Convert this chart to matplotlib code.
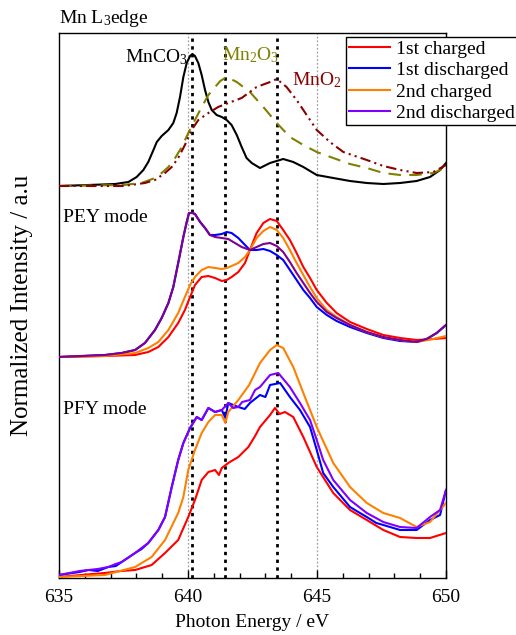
import matplotlib
matplotlib.use("Agg")
import matplotlib.pyplot as plt
from matplotlib.ticker import MultipleLocator

plt.rcParams['font.family'] = ['Liberation Serif', 'DejaVu Serif']
plt.rcParams['mathtext.fontset'] = 'custom'
plt.rcParams['mathtext.rm'] = 'Liberation Serif'
plt.rcParams['mathtext.it'] = 'Liberation Serif:italic'

# ---------------- data ----------------
# reference spectra (top)
e_mnco3 = [635.00, 636.14, 637.17, 637.69, 638.01, 638.27, 638.46, 638.66, 638.79, 638.98,
           639.24, 639.43, 639.56, 639.69, 639.82, 639.95, 640.08, 640.17, 640.27, 640.40,
           640.53, 640.66, 640.79, 640.92, 641.11, 641.31, 641.50, 641.69, 641.89, 642.08,
           642.27, 642.47, 642.79, 643.18, 643.69, 644.08, 644.47, 644.99, 645.63, 646.28,
           646.93, 647.57, 648.22, 648.86, 649.38, 649.77, 650.00]
i_mnco3 = [3.92, 3.93, 3.94, 3.96, 4.01, 4.08, 4.16, 4.28, 4.36, 4.42,
           4.48, 4.55, 4.65, 4.81, 5.01, 5.15, 5.22, 5.24, 5.22, 5.15,
           5.03, 4.88, 4.76, 4.68, 4.63, 4.61, 4.58, 4.53, 4.43, 4.31,
           4.20, 4.15, 4.10, 4.15, 4.19, 4.16, 4.11, 4.03, 4.00, 3.97,
           3.95, 3.94, 3.95, 3.97, 4.01, 4.08, 4.15]

e_mn2o3 = [635.00, 637.50, 638.20, 638.72, 638.98, 639.24, 639.50, 639.76, 640.01, 640.27,
           640.53, 640.79, 641.05, 641.25, 641.50, 641.89, 642.40, 642.92, 643.44, 643.95,
           644.47, 644.99, 645.63, 646.28, 646.93, 647.57, 648.22, 648.86, 649.51, 650.00]
i_mn2o3 = [3.92, 3.93, 3.95, 4.00, 4.05, 4.11, 4.20, 4.31, 4.45, 4.58,
           4.71, 4.83, 4.91, 4.97, 5.01, 4.96, 4.86, 4.71, 4.55, 4.41,
           4.33, 4.26, 4.20, 4.14, 4.10, 4.05, 4.03, 4.03, 4.05, 4.11]

e_mno2 = [635.00, 637.50, 638.33, 638.72, 639.11, 639.37, 639.62, 639.88, 640.14, 640.40,
          640.79, 641.17, 641.56, 642.08, 642.66, 643.18, 643.44, 643.82, 644.21, 644.60,
          644.99, 645.50, 646.02, 646.93, 647.57, 648.22, 648.86, 649.51, 650.00]
i_mno2 = [3.92, 3.92, 3.95, 3.98, 4.05, 4.11, 4.20, 4.33, 4.48, 4.58,
          4.65, 4.71, 4.75, 4.80, 4.91, 4.96, 4.99, 4.91, 4.78, 4.63,
          4.48, 4.36, 4.26, 4.18, 4.12, 4.08, 4.05, 4.06, 4.13]

# PEY mode
e_pey_red = [635.00, 636.78, 637.95, 638.46, 638.85, 639.24, 639.62, 639.88, 640.08, 640.27,
             640.53, 640.79, 641.05, 641.31, 641.50, 641.69, 641.95, 642.21, 642.40, 642.66,
             642.92, 643.18, 643.44, 643.69, 643.95, 644.21, 644.47, 644.73, 644.99, 645.38,
             645.76, 646.28, 646.93, 647.57, 648.22, 648.86, 649.51, 650.00]
i_pey_red = [2.21, 2.22, 2.23, 2.26, 2.31, 2.41, 2.55, 2.68, 2.81, 2.93,
             3.01, 3.02, 3.00, 2.97, 2.98, 3.01, 3.06, 3.15, 3.28, 3.45,
             3.55, 3.59, 3.57, 3.48, 3.38, 3.25, 3.11, 3.00, 2.88, 2.75,
             2.65, 2.56, 2.49, 2.43, 2.40, 2.38, 2.39, 2.40]

e_pey_blue = [635.00, 636.78, 637.43, 637.95, 638.33, 638.72, 638.98, 639.24, 639.43, 639.62,
              639.82, 639.95, 640.04, 640.17, 640.27, 640.47, 640.66, 640.85, 641.05, 641.31,
              641.50, 641.69, 641.95, 642.21, 642.40, 642.66, 642.92, 643.18, 643.44, 643.69,
              643.95, 644.21, 644.47, 644.73, 644.99, 645.38, 645.76, 646.28, 646.93, 647.57,
              648.22, 648.86, 649.25, 649.64, 650.00]
i_pey_blue = [2.21, 2.23, 2.25, 2.28, 2.35, 2.48, 2.60, 2.75, 2.91, 3.15,
              3.41, 3.56, 3.65, 3.65, 3.64, 3.56, 3.50, 3.43, 3.43, 3.44,
              3.46, 3.45, 3.40, 3.33, 3.28, 3.28, 3.29, 3.27, 3.23, 3.18,
              3.08, 2.98, 2.88, 2.80, 2.71, 2.63, 2.57, 2.51, 2.45, 2.40,
              2.37, 2.36, 2.39, 2.45, 2.53]

e_pey_orange = [635.00, 636.78, 637.95, 638.46, 638.85, 639.24, 639.62, 639.88, 640.08, 640.27,
                640.53, 640.79, 641.05, 641.31, 641.50, 641.69, 641.95, 642.21, 642.40, 642.66,
                642.92, 643.18, 643.44, 643.69, 643.95, 644.21, 644.47, 644.73, 644.99, 645.38,
                645.76, 646.28, 646.93, 647.57, 648.22, 648.86, 649.51, 650.00]
i_pey_orange = [2.21, 2.22, 2.25, 2.30, 2.36, 2.48, 2.65, 2.81, 2.93, 3.01,
                3.08, 3.11, 3.10, 3.09, 3.10, 3.12, 3.15, 3.21, 3.28, 3.40,
                3.47, 3.51, 3.48, 3.40, 3.28, 3.15, 3.03, 2.91, 2.80, 2.68,
                2.61, 2.53, 2.46, 2.41, 2.38, 2.36, 2.39, 2.42]

e_pey_purple = [635.00, 636.78, 637.43, 637.95, 638.33, 638.72, 638.98, 639.24, 639.43, 639.62,
                639.82, 639.95, 640.04, 640.17, 640.27, 640.47, 640.66, 640.85, 641.05, 641.31,
                641.56, 641.82, 642.08, 642.40, 642.66, 642.92, 643.18, 643.44, 643.69, 643.95,
                644.21, 644.47, 644.73, 644.99, 645.38, 645.76, 646.28, 646.93, 647.57, 648.22,
                648.86, 649.25, 649.64, 650.00]
i_pey_purple = [2.21, 2.23, 2.25, 2.28, 2.35, 2.48, 2.60, 2.75, 2.91, 3.15,
                3.41, 3.56, 3.65, 3.65, 3.64, 3.56, 3.50, 3.43, 3.41, 3.40,
                3.39, 3.35, 3.31, 3.28, 3.31, 3.34, 3.35, 3.32, 3.26, 3.16,
                3.05, 2.95, 2.85, 2.76, 2.66, 2.60, 2.53, 2.46, 2.41, 2.38,
                2.36, 2.39, 2.45, 2.53]

# PFY mode
e_pfy_red = [635.00, 636.30, 636.78, 637.40, 637.95, 638.59, 639.11, 639.62, 640.01, 640.27,
             640.53, 640.79, 641.05, 641.20, 641.31, 641.56, 641.95, 642.34, 642.60, 642.79,
             643.18, 643.37, 643.55, 643.76, 644.08, 644.47, 644.99, 645.63, 646.28, 646.93,
             647.57, 648.22, 648.86, 649.38, 650.00]
i_pfy_red = [0.01, 0.04, 0.05, 0.07, 0.08, 0.13, 0.25, 0.38, 0.61, 0.78,
             0.98, 1.06, 1.08, 1.03, 1.10, 1.15, 1.21, 1.31, 1.42, 1.51,
             1.63, 1.70, 1.64, 1.66, 1.61, 1.41, 1.11, 0.85, 0.68, 0.58,
             0.48, 0.41, 0.40, 0.40, 0.45]

e_pfy_blue = [635.00, 635.80, 636.14, 636.50, 636.91, 637.20, 637.43, 637.95, 638.20, 638.46,
              638.85, 639.11, 639.37, 639.62, 639.82, 640.08, 640.34, 640.53, 640.79, 641.05,
              641.31, 641.45, 641.56, 641.95, 642.20, 642.40, 642.79, 643.00, 643.18, 643.57,
              643.95, 644.34, 644.73, 644.99, 645.24, 645.63, 646.28, 646.60, 646.93, 647.30,
              647.57, 648.22, 648.86, 649.38, 649.77, 650.00]
i_pfy_blue = [0.03, 0.06, 0.08, 0.07, 0.11, 0.12, 0.16, 0.25, 0.29, 0.35,
              0.48, 0.61, 0.91, 1.18, 1.35, 1.50, 1.61, 1.58, 1.70, 1.66,
              1.68, 1.60, 1.75, 1.71, 1.69, 1.75, 1.83, 1.81, 1.93, 1.95,
              1.81, 1.68, 1.51, 1.28, 1.05, 0.91, 0.71, 0.66, 0.61, 0.55,
              0.53, 0.48, 0.48, 0.58, 0.63, 0.88]

e_pfy_orange = [635.00, 636.78, 637.95, 638.59, 639.11, 639.62, 639.82, 640.01, 640.27, 640.53,
                640.79, 641.05, 641.31, 641.45, 641.56, 641.95, 642.37, 642.79, 643.18, 643.44,
                643.69, 644.08, 644.47, 644.99, 645.63, 646.28, 646.93, 647.57, 648.22, 648.86,
                649.38, 650.00]
i_pfy_orange = [0.01, 0.03, 0.11, 0.21, 0.38, 0.65, 0.81, 1.08, 1.28, 1.45,
                1.56, 1.63, 1.63, 1.55, 1.66, 1.78, 1.93, 2.15, 2.28, 2.33,
                2.30, 2.11, 1.85, 1.51, 1.15, 0.91, 0.75, 0.65, 0.60, 0.51,
                0.56, 0.75]

e_pfy_purple = [635.00, 635.80, 636.14, 636.50, 636.91, 637.20, 637.43, 637.95, 638.20, 638.46,
                638.85, 639.11, 639.37, 639.62, 639.82, 640.08, 640.34, 640.53, 640.79, 641.05,
                641.31, 641.56, 641.75, 641.95, 642.10, 642.40, 642.60, 642.79, 643.18, 643.50,
                643.95, 644.34, 644.73, 644.99, 645.24, 645.63, 646.28, 646.93, 647.57, 648.22,
                648.86, 649.38, 649.77, 650.00]
i_pfy_purple = [0.03, 0.07, 0.08, 0.09, 0.11, 0.14, 0.16, 0.25, 0.30, 0.35,
                0.48, 0.61, 0.91, 1.18, 1.35, 1.50, 1.61, 1.58, 1.70, 1.66,
                1.68, 1.75, 1.70, 1.71, 1.76, 1.78, 1.88, 1.91, 2.03, 2.05,
                1.91, 1.75, 1.58, 1.38, 1.18, 0.98, 0.78, 0.65, 0.56, 0.51,
                0.50, 0.61, 0.68, 0.88]

legend_labels = ["1st charged", "1st discharged", "2nd charged", "2nd discharged"]
marker_lines = [640.15, 641.45, 643.45]
guide_lines = [640.0, 645.0]
x_ticks = [635, 640, 645, 650]

# ---------------- figure ----------------
W, H = 516, 635
fig = plt.figure(figsize=(W / 100, H / 100), dpi=100)
ax = fig.add_axes([59 / W, 1 - 578 / H, (446 - 59) / W, (578 - 33) / H])

red, blue, orange = '#FF0000', '#0000FF', '#FF8000'
purple_pey, purple_pfy = '#800090', '#8000FF'
lw = 1.5

for x in guide_lines:
    ax.axvline(x, color='#A0A0A0', lw=0.9, ls=(0, (1.5, 1.5)), zorder=1)
for x in marker_lines:
    ax.axvline(x, color='black', lw=2.0, ls=(0, (1.2, 1.6)), zorder=1)

kw = dict(lw=lw, zorder=3, solid_joinstyle='round', dash_joinstyle='round')
ax.plot(e_mnco3, i_mnco3, color='black', **kw)
ax.plot(e_mn2o3, i_mn2o3, color='#808000', dashes=(6, 4), **kw)
ax.plot(e_mno2, i_mno2, color='#8B0000', dashes=(5, 2, 1, 2, 1, 2), **kw)

l1, = ax.plot(e_pey_red, i_pey_red, color=red, **kw)
l2, = ax.plot(e_pey_blue, i_pey_blue, color=blue, **kw)
l3, = ax.plot(e_pey_orange, i_pey_orange, color=orange, **kw)
ax.plot(e_pey_purple, i_pey_purple, color=purple_pey, **kw)

ax.plot(e_pfy_red, i_pfy_red, color=red, **kw)
ax.plot(e_pfy_blue, i_pfy_blue, color=blue, **kw)
ax.plot(e_pfy_orange, i_pfy_orange, color=orange, **kw)
l4, = ax.plot(e_pfy_purple, i_pfy_purple, color=purple_pfy, **kw)

ax.set_xlim(635, 650)
ax.set_ylim(0, 5.45)
ax.set_xticks(x_ticks)
ax.xaxis.set_minor_locator(MultipleLocator(1))
ax.set_yticks([])
ax.tick_params(axis='x', which='major', direction='in', length=6, width=1, labelsize=14, pad=8)
ax.tick_params(axis='x', which='minor', direction='in', length=3.5, width=1)
for s in ax.spines.values():
    s.set_linewidth(1.0)

ax.set_xlabel("Photon Energy / eV", fontsize=14, labelpad=6)
ax.set_ylabel("Normalized Intensity / a.u", fontsize=18)
ax.yaxis.set_label_coords(-0.068, 0.5)

ax.text(640.0, 5.21, "MnCO$_3$", fontsize=14, ha='right', va='center', color='black', zorder=4)
ax.text(641.32, 5.23, "Mn$_2$O$_3$", fontsize=14, ha='left', va='center', color='#808000', zorder=4)
ax.text(644.03, 4.98, "MnO$_2$", fontsize=14, ha='left', va='center', color='#8B0000', zorder=4)
ax.text(635.16, 3.61, "PEY mode", fontsize=14, ha='left', va='center')
ax.text(635.16, 1.68, "PFY mode", fontsize=14, ha='left', va='center')
ax.text(0.0, 1.008, "Mn L$_3$edge", fontsize=14, ha='left', va='bottom', transform=ax.transAxes)

leg = fig.legend([l1, l2, l3, l4], legend_labels, loc='upper left',
                 bbox_to_anchor=(346 / W, 1 - 37 / H), borderaxespad=0,
                 fontsize=14, frameon=True, fancybox=False, framealpha=1,
                 edgecolor='black', handlelength=2.1, handletextpad=0.3,
                 labelspacing=0.2, borderpad=0.15)
leg.get_frame().set_linewidth(1.0)

fig.savefig("out.png", dpi=100)
